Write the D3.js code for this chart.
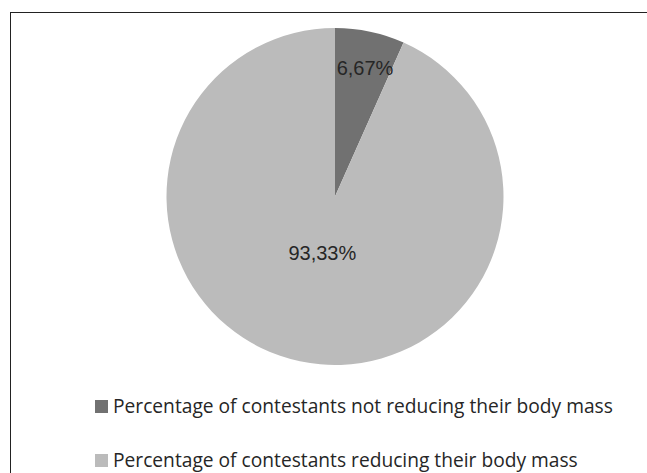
<!DOCTYPE html>
<html><head><meta charset="utf-8">
<script src="https://cdn.jsdelivr.net/npm/d3@7"></script>
<style>body{margin:0;background:#fff}svg{display:block}</style>
</head><body>
<svg id="c" width="647" height="473"></svg>
<script>
const categories = ["Percentage of contestants not reducing their body mass",
                    "Percentage of contestants reducing their body mass"];
const values = [6.67, 93.33];
const labels = ["6,67%", "93,33%"];
const colors = ["#717171", "#bbbbbb"];

const svg = d3.select("#c");
const font = "'Liberation Sans', Arial, sans-serif";
const legFont = "'Open Sans', 'Liberation Sans', sans-serif";

// chart border (extends beyond the cropped picture)
svg.append("rect").attr("x", 10.5).attr("y", 12.5).attr("width", 700).attr("height", 600)
  .attr("fill", "none").attr("stroke", "#222").attr("stroke-width", 1);

const cx = 335, cy = 196.5, r = 168.5;
const pie = d3.pie().sort(null).value(d => d)(values);
const arc = d3.arc().innerRadius(0).outerRadius(r);
const g = svg.append("g").attr("transform", `translate(${cx},${cy})`);
g.selectAll("path").data(pie).join("path")
  .attr("d", arc).attr("fill", (d, i) => colors[i]);

// labels: small slice placed near the rim, big slice near the centre
const labelR = [132, 58];
g.selectAll("text").data(pie).join("text")
  .attr("transform", (d, i) => {
    const a = (d.startAngle + d.endAngle) / 2 + (i === 0 ? 0.02 : 0.01);
    return `translate(${Math.sin(a) * labelR[i]},${-Math.cos(a) * labelR[i]})`;
  })
  .attr("text-anchor", "middle").attr("dy", "0.35em")
  .attr("font-family", font).attr("font-size", 20).attr("fill", "#262626")
  .text((d, i) => labels[i]);

// legend
const ly = d3.scalePoint().domain(categories).range([406.5, 460.5]);
const lg = svg.selectAll("g.leg").data(categories).join("g").attr("class", "leg")
  .attr("transform", d => `translate(95,${ly(d)})`);
lg.append("rect").attr("x", 0).attr("y", -6.5).attr("width", 13).attr("height", 13)
  .attr("fill", (d, i) => colors[i]);
lg.append("text").attr("x", 18).attr("y", 0).attr("dy", "0.36em")
  .attr("font-family", legFont).attr("font-size", 19.2).attr("fill", "#262626")
  .text(d => d);
</script>
</body></html>
